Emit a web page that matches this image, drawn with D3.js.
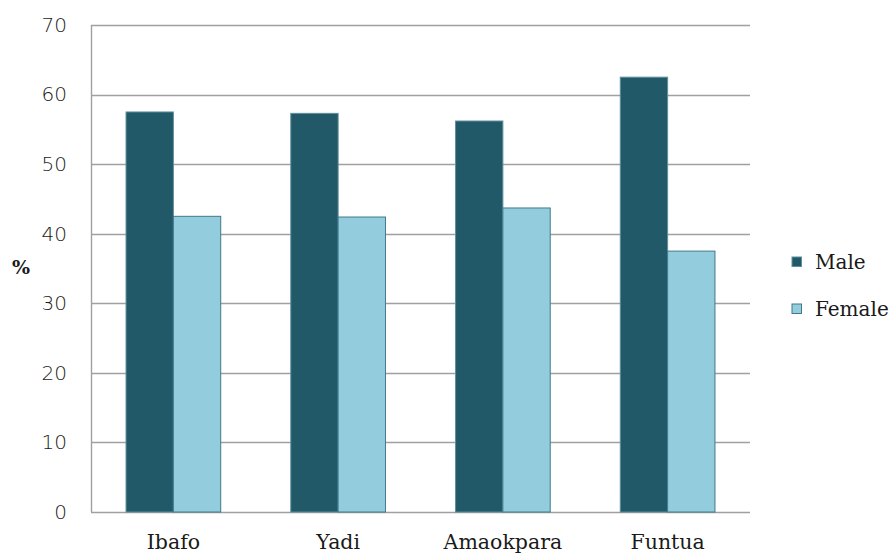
<!DOCTYPE html>
<html><head><meta charset="utf-8">
<script src="https://cdn.jsdelivr.net/npm/d3@7"></script>
<style>body{margin:0;background:#fff}</style>
</head><body>
<svg id="c" width="892" height="554"></svg>
<script>
const categories = ["Ibafo", "Yadi", "Amaokpara", "Funtua"];
const seriesNames = ["Male", "Female"];
const maleValues = [57.5, 57.3, 56.2, 62.5];
const femaleValues = [42.5, 42.4, 43.7, 37.5];
const yTicks = [0, 10, 20, 30, 40, 50, 60, 70];
const colors = ["#215968", "#93cddd"];
const strokes = ["#5f8f9c", "#3f7a8c"];

const svg = d3.select("#c");
const m = {l: 91, r: 142, t: 25, b: 42};
const W = 892, H = 554;
const x = d3.scaleBand().domain(categories).range([m.l, W - m.r]).paddingInner(0).paddingOuter(0);
const x1 = d3.scaleBand().domain(seriesNames).range([0, x.bandwidth()]).paddingInner(0).paddingOuter(0.74);
const y = d3.scaleLinear().domain([0, 70]).range([H - m.b, m.t]);

// gridlines
svg.append("g").selectAll("line").data(yTicks).join("line")
  .attr("x1", m.l).attr("x2", W - m.r)
  .attr("y1", d => Math.round(y(d)) + 0.5).attr("y2", d => Math.round(y(d)) + 0.5)
  .attr("stroke", "#a0a0a0").attr("stroke-width", 1.4);

// left axis line
svg.append("line").attr("x1", m.l + 0.5).attr("x2", m.l + 0.5)
  .attr("y1", y(70)).attr("y2", y(0)).attr("stroke", "#a0a0a0").attr("stroke-width", 1.4);

const data = categories.map((c, i) => ({c, vals: [maleValues[i], femaleValues[i]]}));
const g = svg.append("g").selectAll("g").data(data).join("g")
  .attr("transform", d => `translate(${x(d.c)},0)`);
g.selectAll("rect").data(d => d.vals.map((v, k) => ({s: seriesNames[k], v, k}))).join("rect")
  .attr("x", d => x1(d.s)).attr("width", x1.bandwidth())
  .attr("y", d => y(d.v)).attr("height", d => y(0) - y(d.v))
  .attr("fill", d => colors[d.k]).attr("stroke", d => strokes[d.k]).attr("stroke-width", 1);

// y axis labels
const yAxis = d3.axisLeft(y).tickValues(yTicks).tickSize(0).tickPadding(24);
const ya = svg.append("g").attr("transform", `translate(${m.l},0)`).call(yAxis);
ya.select(".domain").remove();
ya.selectAll("text").attr("font-family", "DejaVu Sans").attr("font-weight", "300")
  .attr("font-size", 20).attr("fill", "#1a1a1a");

// x axis labels
const xAxis = d3.axisBottom(x).tickSize(0).tickPadding(22);
const xa = svg.append("g").attr("transform", `translate(0,${y(0)})`).call(xAxis);
xa.select(".domain").remove();
xa.selectAll("text").attr("font-family", "DejaVu Serif").attr("font-size", 20.5).attr("fill", "#1a1a1a");

// y title
svg.append("text").attr("x", 21).attr("y", 274).attr("text-anchor", "middle")
  .attr("font-family", "DejaVu Serif").attr("font-weight", "bold").attr("font-size", 19).attr("fill", "#1a1a1a").text("%");

// legend
const lg = svg.append("g").selectAll("g").data(seriesNames).join("g")
  .attr("transform", (d, i) => `translate(792,${257 + i * 47})`);
lg.append("rect").attr("width", 9.5).attr("height", 9.5)
  .attr("fill", (d, i) => colors[i]).attr("stroke", (d, i) => strokes[i]);
lg.append("text").attr("x", 23).attr("y", 12).text(d => d)
  .attr("font-family", "DejaVu Serif").attr("font-size", 20).attr("fill", "#1a1a1a");
</script>
</body></html>
